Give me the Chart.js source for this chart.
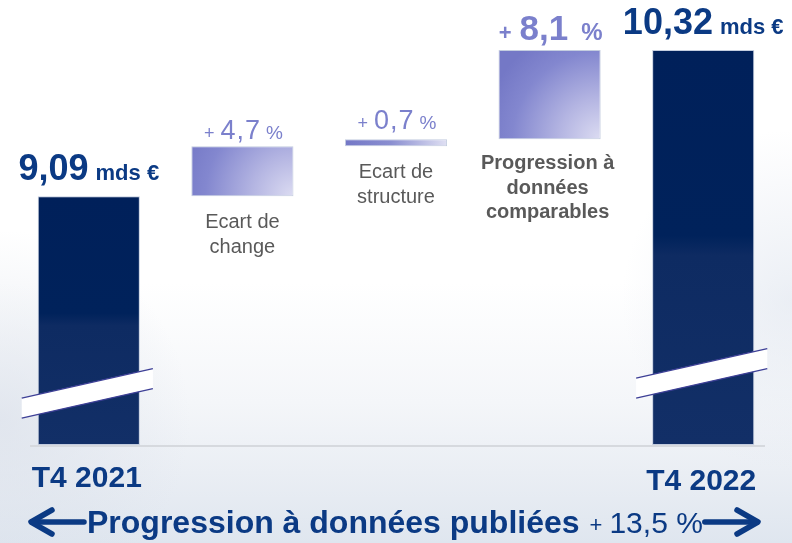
<!DOCTYPE html>
<html><head><meta charset="utf-8">
<script src="https://cdn.jsdelivr.net/npm/chart.js@4/dist/chart.umd.min.js"></script>
<style>html,body{margin:0;padding:0;background:#fff;overflow:hidden}canvas{display:block}</style>
</head><body>
<canvas id="c" width="792" height="543"></canvas>
<script>
// ---- data (mds €, broken axis starting at 7,0) ----
const categories = ["T4 2021", "Ecart de change", "Ecart de structure", "Progression à données comparables", "T4 2022"];
const barStart = [7.0, 9.09, 9.51, 9.57, 7.0];
const barEnd   = [9.09, 9.51, 9.57, 10.32, 10.32];
const totalLabels  = ["9,09", null, null, null, "10,32"];
const changeLabels = [null, "4,7", "0,7", "8,1", null];
const categoryLines = [["T4 2021"], ["Ecart de", "change"], ["Ecart de", "structure"], ["Progression à", "données", "comparables"], ["T4 2022"]];
const publishedLabel = "Progression à données publiées";
const publishedGrowth = "13,5 %";
const axisMin = 7.0, axisMax = 10.32;

const FONT = "'Liberation Sans', Arial, sans-serif";
const NAVY = "#0b3a84";
const LILAC = "#7b80cc";
const GREY = "#595959";
const CAT_PCT = 0.665;

function drawRuns(ctx, runs, cx, baseline) {
  let total = 0;
  runs.forEach(r => { ctx.font = r.font; ctx.letterSpacing = r.ls || "0px"; r.w = ctx.measureText(r.text).width; total += r.w + (r.gap || 0); });
  let x = cx - total / 2;
  ctx.textAlign = "left"; ctx.textBaseline = "alphabetic";
  runs.forEach(r => { ctx.font = r.font; ctx.letterSpacing = r.ls || "0px"; ctx.fillStyle = r.color; ctx.fillText(r.text, x, baseline); x += r.w + (r.gap || 0); });
  ctx.letterSpacing = "0px";
}

function barFill(context) {
  const chart = context.chart;
  const i = context.dataIndex;
  const xs = chart.scales.x, ys = chart.scales.y;
  if (!xs || !ys || i === undefined) return "#00215a";
  const ctx = chart.ctx;
  const cx = xs.getPixelForValue(i);
  const w = (xs.getPixelForValue(1) - xs.getPixelForValue(0)) * CAT_PCT;
  const left = cx - w / 2, right = cx + w / 2;
  const top = ys.getPixelForValue(barEnd[i]), bot = ys.getPixelForValue(barStart[i]);
  if (!isFinite(cx) || !isFinite(top) || !isFinite(w)) return "#00215a";
  if (i === 0 || i === 4) {
    const g = ctx.createLinearGradient(0, top, 0, bot);
    g.addColorStop(0, "#00205a");
    g.addColorStop(0.47, "#00225b");
    g.addColorStop(0.52, "#0e2b62");
    g.addColorStop(1, "#122f67");
    return g;
  }
  if (bot - top < 15) {
    const g = ctx.createLinearGradient(left, 0, right, 0);
    g.addColorStop(0, "#7377c6");
    g.addColorStop(0.45, "#8a8ed0");
    g.addColorStop(1, "#e0e0f3");
    return g;
  }
  const r = Math.max(right - left, bot - top) * 1.15;
  const g = ctx.createRadialGradient(right, bot, 0, right, bot, r);
  g.addColorStop(0, "#dcdcf2");
  g.addColorStop(0.35, "#b4b5e2");
  g.addColorStop(0.75, "#8387cf");
  g.addColorStop(1, "#7478c6");
  return g;
}

const decorPlugin = {
  id: "decor",
  beforeDraw(chart) {
    const ctx = chart.ctx, W = chart.width, H = chart.height;
    ctx.save();
    const g = ctx.createLinearGradient(0, 0, 0, H);
    g.addColorStop(0, "#ffffff");
    g.addColorStop(0.52, "#ffffff");
    g.addColorStop(0.74, "#f4f6f9");
    g.addColorStop(0.87, "#eaeef4");
    g.addColorStop(1, "#dfe6ef");
    ctx.fillStyle = g; ctx.fillRect(0, 0, W, H);
    const rg = ctx.createRadialGradient(0, 420, 0, 0, 420, 190);
    rg.addColorStop(0, "rgba(218,224,234,0.7)");
    rg.addColorStop(1, "rgba(218,224,234,0)");
    ctx.fillStyle = rg; ctx.fillRect(0, 200, 300, 343);
    const rg2 = ctx.createRadialGradient(792, 300, 0, 792, 300, 170);
    rg2.addColorStop(0, "rgba(222,228,238,0.6)");
    rg2.addColorStop(1, "rgba(222,228,238,0)");
    ctx.fillStyle = rg2; ctx.fillRect(600, 100, 192, 400);
    ctx.restore();
  },
  beforeDatasetsDraw(chart) {
    const ctx = chart.ctx;
    const y = chart.scales.y.getPixelForValue(axisMin) + 1;
    ctx.save();
    ctx.strokeStyle = "#d6d9de"; ctx.lineWidth = 2;
    ctx.beginPath(); ctx.moveTo(30, y); ctx.lineTo(765, y); ctx.stroke();
    ctx.restore();
  },
  afterDatasetsDraw(chart) {
    const ctx = chart.ctx;
    const meta = chart.getDatasetMeta(0);
    ctx.save();
    // axis breaks on the total bars
    const breakLift = { 0: 52, 4: 72 };
    Object.keys(breakLift).forEach(k => {
      const el = meta.data[k];
      const l = el.x - el.width / 2 - 16, r = el.x + el.width / 2 + 13;
      const cy = el.base - breakLift[k];
      const slope = -0.225, half = 10;
      const yl = cy - slope * (el.x - l), yr = cy + slope * (r - el.x);
      ctx.fillStyle = "#ffffff";
      ctx.beginPath();
      ctx.moveTo(l, yl - half); ctx.lineTo(r, yr - half); ctx.lineTo(r, yr + half); ctx.lineTo(l, yl + half); ctx.closePath();
      ctx.fill();
      ctx.strokeStyle = "#3d3f96"; ctx.lineWidth = 1.3;
      ctx.beginPath(); ctx.moveTo(l, yl - half); ctx.lineTo(r, yr - half); ctx.stroke();
      ctx.beginPath(); ctx.moveTo(l, yl + half); ctx.lineTo(r, yr + half); ctx.stroke();
    });
    meta.data.forEach((el, i) => {
      const top = Math.min(el.y, el.base), bot = Math.max(el.y, el.base);
      if (totalLabels[i]) {
        drawRuns(ctx, [
          { text: totalLabels[i], font: "bold 36px " + FONT, color: NAVY, gap: 7 },
          { text: "mds €", font: "bold 22px " + FONT, color: NAVY }
        ], el.x, top - 16);
        ctx.font = "bold 30px " + FONT; ctx.fillStyle = NAVY; ctx.textAlign = "center";
        ctx.fillText(categoryLines[i][0], el.x - 2, el.base + (i === 0 ? 42 : 45));
      }
      if (changeLabels[i]) {
        const strong = i === 3;
        const runs = strong ? [
          { text: "+", font: "bold 22px " + FONT, color: LILAC, gap: 8 },
          { text: changeLabels[i], font: "bold 35px " + FONT, color: LILAC, gap: 13 },
          { text: "%", font: "bold 24px " + FONT, color: LILAC }
        ] : [
          { text: "+", font: "18px " + FONT, color: LILAC, gap: 6 },
          { text: changeLabels[i], font: "27px " + FONT, color: LILAC, ls: "1px", gap: 5 },
          { text: "%", font: "19px " + FONT, color: LILAC }
        ];
        drawRuns(ctx, runs, el.x + 1, top - (i === 1 ? 7 : 10));
        ctx.font = (strong ? "bold 20px " : "20px ") + FONT;
        ctx.fillStyle = GREY; ctx.textAlign = "center";
        categoryLines[i].forEach((line, j) => ctx.fillText(line, el.x + (strong ? -2 : 0), bot + (strong ? 30 : 32) + j * 24.5));
      }
    });
    // bottom published growth line
    const by = 533;
    ctx.font = "bold 32px " + FONT; ctx.fillStyle = NAVY; ctx.textAlign = "left";
    const x0 = 87;
    ctx.fillText(publishedLabel, x0, by);
    let x = x0 + ctx.measureText(publishedLabel).width + 10;
    ctx.font = "22px " + FONT; ctx.fillText("+", x, by - 1);
    x += ctx.measureText("+").width + 7;
    ctx.font = "30px " + FONT; ctx.fillText(publishedGrowth, x, by);
    x += ctx.measureText(publishedGrowth).width + 2;
    ctx.strokeStyle = NAVY; ctx.lineWidth = 5.5; ctx.lineCap = "round"; ctx.lineJoin = "round";
    const ay = 522;
    ctx.beginPath(); ctx.moveTo(84, ay); ctx.lineTo(32, ay); ctx.stroke();
    ctx.beginPath(); ctx.moveTo(52, ay - 12); ctx.lineTo(31, ay); ctx.lineTo(52, ay + 12); ctx.stroke();
    ctx.beginPath(); ctx.moveTo(x, ay); ctx.lineTo(757, ay); ctx.stroke();
    ctx.beginPath(); ctx.moveTo(737, ay - 12); ctx.lineTo(758, ay); ctx.lineTo(737, ay + 12); ctx.stroke();
    ctx.restore();
  }
};

new Chart(document.getElementById("c"), {
  type: "bar",
  data: {
    labels: categories,
    datasets: [{
      data: barStart.map((s, i) => [s, barEnd[i]]),
      backgroundColor: barFill,
      borderColor: "rgba(190,200,220,0.9)",
      borderWidth: 1,
      borderSkipped: false,
      barPercentage: 1.0,
      categoryPercentage: CAT_PCT
    }]
  },
  options: {
    responsive: false,
    animation: false,
    devicePixelRatio: 1,
    layout: { padding: { left: 12, right: 12, top: 50, bottom: 98 } },
    scales: {
      x: { display: false },
      y: { display: false, min: axisMin, max: axisMax }
    },
    plugins: { legend: { display: false }, tooltip: { enabled: false } }
  },
  plugins: [decorPlugin]
});
</script>
</body></html>
